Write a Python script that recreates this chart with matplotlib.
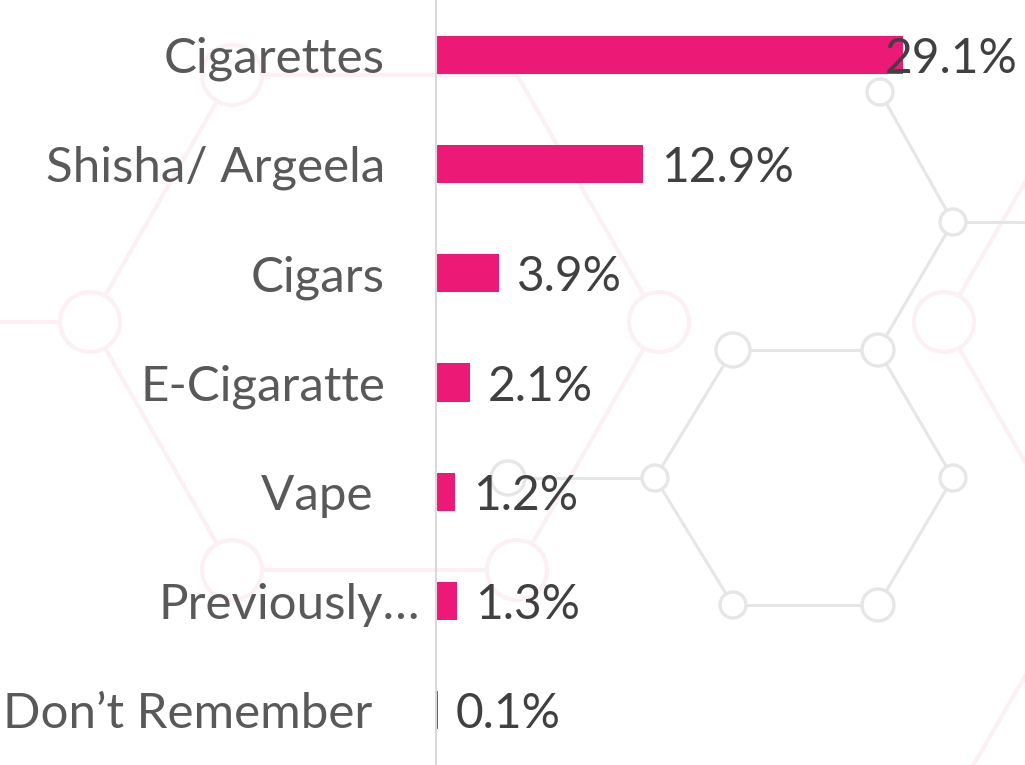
import matplotlib
matplotlib.use("Agg")
import matplotlib.pyplot as plt
from matplotlib.patches import Circle
from matplotlib.transforms import offset_copy

categories = ["Cigarettes", "Shisha/ Argeela", "Cigars", "E-Cigaratte", "Vape ",
              "Previously…", "Don’t Remember "]
values = [29.1, 12.9, 3.9, 2.1, 1.2, 1.3, 0.1]
value_labels = ["29.1%", "12.9%", "3.9%", "2.1%", "1.2%", "1.3%", "0.1%"]

BAR = "#ED1977"
FONT = "Lato"
FS = 35.5
FS_VAL = 34.5

fig = plt.figure(figsize=(10.25, 7.65), dpi=100)

# background hexagon decoration, in pixel space
bg = fig.add_axes([0, 0, 1, 1], zorder=0)
bg.set_xlim(0, 1025)
bg.set_ylim(765, 0)
bg.axis("off")

pink = "#FCF0F4"
pink_nodes = [(232, 75), (90, 322), (659, 322), (232, 570), (517, 570), (944, 322)]
pink_edges = [((232, 75), (517, 75)), ((232, 75), (90, 322)), ((90, 322), (-10, 322)),
              ((90, 322), (232, 570)), ((232, 570), (517, 570)), ((517, 570), (659, 322)),
              ((659, 322), (517, 75)), ((944, 322), (1087, 75)), ((944, 322), (1087, 569)),
              ((1087, 569), (944, 816))]
for (x0, y0), (x1, y1) in pink_edges:
    bg.plot([x0, x1], [y0, y1], color=pink, lw=3, solid_capstyle="butt", zorder=1)
for x, y in pink_nodes:
    bg.add_patch(Circle((x, y), 30, facecolor="white", edgecolor=pink, lw=3, zorder=2))

gray = "#E6E6E6"
gray_nodes = [(880, 92, 13), (953, 222, 13), (733, 350, 17), (878, 350, 16), (655, 478, 13),
              (953, 478, 13), (733, 605, 13), (878, 605, 16), (508, 478, 17)]
gray_edges = [((880, 92), (953, 222)), ((953, 222), (878, 350)), ((953, 222), (1030, 222)),
              ((733, 350), (878, 350)), ((733, 350), (655, 478)), ((655, 478), (508, 478)),
              ((655, 478), (733, 605)), ((733, 605), (878, 605)), ((878, 605), (953, 478)),
              ((953, 478), (878, 350))]
for (x0, y0), (x1, y1) in gray_edges:
    bg.plot([x0, x1], [y0, y1], color=gray, lw=2.2, solid_capstyle="butt", zorder=3)
for x, y, r in gray_nodes:
    bg.add_patch(Circle((x, y), r, facecolor="white", edgecolor=gray, lw=2.4, zorder=4))

# the chart itself
left = 436 / 1025
ax = fig.add_axes([left, 0, 1 - left, 1], zorder=1)
ax.patch.set_alpha(0)
xmax = (1025 - 436) / 16.05
ax.set_xlim(0, xmax)
ax.set_ylim(6.5, -0.5)

pos = list(range(len(categories)))
ax.barh(pos, values, height=0.35, color=BAR, edgecolor="none", linewidth=0)

for s in ["top", "right", "bottom"]:
    ax.spines[s].set_visible(False)
ax.spines["left"].set_color("#D9D9D9")
ax.spines["left"].set_linewidth(1.5)
ax.set_xticks([])
ax.set_yticks([])

for i, lab in enumerate(categories):
    pad = 16 if lab.endswith("…") else 51
    tr = offset_copy(ax.get_yaxis_transform(), fig=fig, x=-pad, y=0, units="dots")
    ax.text(0, i, lab, transform=tr, ha="right", va="center_baseline",
            fontsize=FS, color="#595959", family=FONT)

for i, (v, lab) in enumerate(zip(values, value_labels)):
    if v + 10 > xmax:
        # no room right of the longest bar, so pull its label inside the plot
        tr = offset_copy(ax.get_yaxis_transform(), fig=fig, x=-7, y=0, units="dots")
        ax.text(1, i, lab, transform=tr, ha="right", va="center_baseline",
                fontsize=FS_VAL, color="#404040", family=FONT)
    else:
        tr = offset_copy(ax.transData, fig=fig, x=18, y=0, units="dots")
        ax.text(v, i, lab, transform=tr, ha="left", va="center_baseline",
                fontsize=FS_VAL, color="#404040", family=FONT)

fig.savefig("out.png", dpi=100, facecolor="white")
